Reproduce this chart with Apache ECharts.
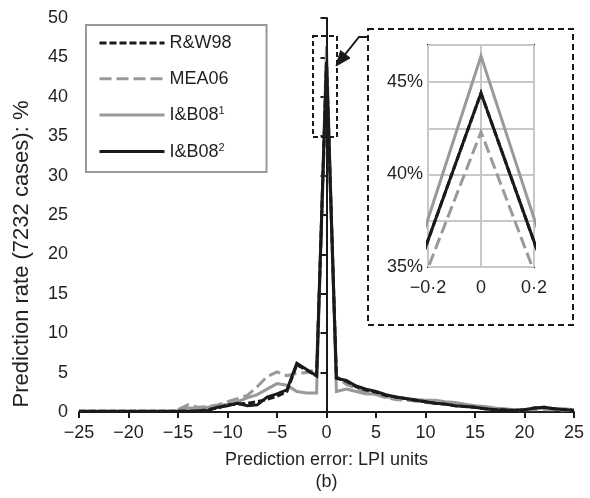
<!DOCTYPE html>
<html>
<head>
<meta charset="utf-8">
<script src="https://cdn.jsdelivr.net/npm/echarts@6/dist/echarts.min.js"></script>
<style>
html,body{margin:0;padding:0;background:#fff;}
#c{width:590px;height:498px;}
</style>
</head>
<body>
<div id="c"></div>
<script>
// ---- data ----
const xVals = [-25,-24,-23,-22,-21,-20,-19,-18,-17,-16,-15,-14,-13,-12,-11,-10,-9,-8,-7,-6,-5,-4,-3,-2,-1,0,1,2,3,4,5,6,7,8,9,10,11,12,13,14,15,16,17,18,19,20,21,22,23,24,25];
// values aligned with xVals (null = no data)
const rw98 = [0.1,0.1,0.1,0.1,0.1,0.1,0.1,0.1,0.1,0.1,0.1,0.1,0.1,0.3,0.5,0.9,1.0,1.1,1.3,1.6,2.0,2.6,6.0,5.3,4.6,44.4,4.3,3.9,3.2,2.8,2.5,2.1,1.9,1.7,1.5,1.3,1.1,1.0,0.8,0.7,0.6,0.4,0.3,0.25,0.2,0.3,0.5,0.6,0.4,0.3,0.2];
const mea06 = [null,null,null,null,null,null,null,null,null,null,0.3,0.9,0.6,0.7,0.9,1.3,1.7,2.1,3.2,4.5,5.1,4.6,4.9,5.0,5.5,42.3,4.6,3.5,3.0,2.5,2.2,1.8,1.6,1.5,1.4,1.2,1.1,1.0,0.9,0.8,0.6,0.5,0.4,0.3,0.3,0.3,0.3,0.3,0.3,0.2,0.2];
const ib08a = [null,null,null,null,null,null,null,null,null,null,0.3,0.5,0.5,0.6,0.8,1.0,1.3,1.8,2.2,2.9,3.6,3.4,2.6,2.4,2.4,46.4,2.6,2.9,2.6,2.3,2.3,1.9,1.8,1.7,1.6,1.5,1.5,1.3,1.2,1.0,0.8,0.7,0.5,0.4,0.3,0.3,0.4,0.5,0.4,0.4,0.3];
const ib08b = [0.1,0.1,0.1,0.1,0.1,0.1,0.1,0.1,0.1,0.1,0.1,0.1,0.15,0.2,0.6,0.8,1.1,0.8,0.9,1.9,2.3,2.8,6.2,5.4,4.6,44.4,4.3,4.0,3.3,2.9,2.6,2.2,1.9,1.7,1.5,1.3,1.1,1.0,0.8,0.7,0.6,0.4,0.3,0.25,0.2,0.3,0.5,0.6,0.4,0.3,0.2];
const seriesNames = ['R&W98','MEA06','I&B08¹','I&B08²'];
const xTicks = [-25,-20,-15,-10,-5,0,5,10,15,20,25];
const yTicks = [0,5,10,15,20,25,30,35,40,45,50];
const insetXTicks = [-0.2,0,0.2];
const insetYLabels = [35,40,45];

const BLACK = '#1a1a1a', GRAY = '#999999';
const FONT = 'Liberation Sans, Arial, sans-serif';
const pair = arr => xVals.map((x,i)=>[x, arr[i]]);

const styles = {
  'R&W98': {color: BLACK, type: [7,3]},
  'MEA06': {color: GRAY, type: [12,5]},
  'I&B08¹': {color: GRAY, type: 'solid'},
  'I&B08²': {color: BLACK, type: 'solid'}
};
const dataMap = {'R&W98': rw98, 'MEA06': mea06, 'I&B08¹': ib08a, 'I&B08²': ib08b};
const drawOrder = ['MEA06','I&B08¹','R&W98','I&B08²'];

const series = [];
[0,1].forEach(gi=>{
  drawOrder.forEach((name, k)=>{
    const st = styles[name];
    series.push({
      name, type:'line', xAxisIndex: gi, yAxisIndex: gi,
      data: pair(dataMap[name]), symbol:'none', connectNulls:false,
      clip:true, z: 3 + k, animation:false,
      lineStyle:{color: st.color, width: 3, type: st.type, cap:'butt', join:'miter'},
      itemStyle:{color: st.color}
    });
  });
});
// vertical zero line on main chart
series.push({
  type:'line', xAxisIndex:0, yAxisIndex:0, data:[], silent:true, animation:false,
  markLine:{symbol:['none','none'], silent:true, label:{show:false},
    lineStyle:{color:BLACK, width:2, type:'solid'}, data:[{xAxis:0}]}
});

const chart = echarts.init(document.getElementById('c'), null, {renderer:'canvas'});
chart.setOption({
  backgroundColor:'#fff',
  animation:false,
  textStyle:{fontFamily: FONT},
  legend:{
    data: seriesNames, orient:'vertical', left:86, top:25,
    itemWidth:65, itemHeight:14, itemGap:17.7,
    padding:[9,35,11,12], borderColor:'#999', borderWidth:2,
    selectedMode:false,
    itemStyle:{opacity:0},
    lineStyle:{width:3},
    textStyle:{fontFamily:FONT, fontSize:18, color:'#231f20',
      rich:{a:{fontSize:18, fontFamily:FONT, color:'#231f20', verticalAlign:'bottom'},
            s:{fontSize:11, fontFamily:FONT, color:'#231f20', verticalAlign:'top', padding:[0,0,8,0]}}},
    formatter: n => {
      if (n.endsWith('¹')) return '{a|I&B08}{s|1}';
      if (n.endsWith('²')) return '{a|I&B08}{s|2}';
      return n;
    }
  },
  grid:[
    {left:79, top:18, width:495, height:400, containLabel:false},
    {left:428, top:45, width:106, height:222, show:true, borderColor:BLACK, borderWidth:2}
  ],
  xAxis:[
    {type:'value', gridIndex:0, min:-25, max:25, interval:5,
     axisLine:{show:true, onZero:false, lineStyle:{color:BLACK, width:2}},
     axisTick:{show:true, length:6, inside:false, lineStyle:{color:BLACK, width:2}},
     splitLine:{show:false},
     axisLabel:{fontSize:18, color:'#231f20', margin:12, fontFamily:FONT,
       formatter: v => (xTicks.includes(v) ? String(v).replace('-','\u2212') : '')},
     name:'Prediction error: LPI units\n(b)', nameLocation:'middle', nameGap:37,
     nameTextStyle:{fontSize:18, color:'#231f20', lineHeight:22, fontFamily:FONT}
    },
    {type:'value', gridIndex:1, min:-0.2, max:0.2, interval:0.2,
     axisLine:{show:false}, axisTick:{show:false},
     splitLine:{show:true, lineStyle:{color:'#c8c8c8', width:2}},
     axisLabel:{fontSize:18, color:'#231f20', margin:12, fontFamily:FONT,
       formatter: v => {
         const t = insetXTicks.find(q => Math.abs(q - v) < 1e-9);
         if (t === undefined) return '';
         if (t === 0) return '0';
         return (t < 0 ? '\u2212' : '') + String(Math.abs(t)).replace('.','\u00b7');
       }}
    }
  ],
  yAxis:[
    {type:'value', gridIndex:0, min:0, max:50, interval:5,
     axisLine:{show:true, lineStyle:{color:BLACK, width:2}},
     axisTick:{show:true, length:6, lineStyle:{color:BLACK, width:2}},
     splitLine:{show:false},
     axisLabel:{fontSize:18, color:'#231f20', margin:11, fontFamily:FONT,
       formatter: v => (yTicks.includes(v) ? String(v) : '')}
    },
    {type:'value', gridIndex:1, min:35, max:47, interval:2.5,
     axisLine:{show:false}, axisTick:{show:false},
     splitLine:{show:true, lineStyle:{color:'#c8c8c8', width:2}},
     axisLabel:{fontSize:18, color:'#231f20', margin:5, fontFamily:FONT,
       formatter: v => (insetYLabels.includes(v) ? v + '%' : '')}
    }
  ],
  series,
  graphic:[
    {type:'text', x:22, y:254, rotation:Math.PI/2, z:100,
     style:{text:'Prediction rate (7232 cases): %', fontSize:22, fontFamily:FONT, fill:'#231f20',
       textAlign:'center', textVerticalAlign:'middle'}},
    {type:'rect', shape:{x:313, y:36, width:24, height:101}, z:100,
     style:{fill:null, stroke:BLACK, lineWidth:2, lineDash:[5,3]}},
    {type:'rect', shape:{x:368, y:29, width:205, height:296}, z:1,
     style:{fill:null, stroke:BLACK, lineWidth:2, lineDash:[6,4]}},
    {type:'polyline', shape:{points:[[368,37],[359,37],[343,57]]}, z:100,
     style:{fill:null, stroke:BLACK, lineWidth:2}},
    {type:'polygon', shape:{points:[[336,66],[350,58],[340.6,50.6]]}, z:100,
     style:{fill:BLACK, stroke:BLACK, lineWidth:1}}
  ]
});
</script>
</body>
</html>
